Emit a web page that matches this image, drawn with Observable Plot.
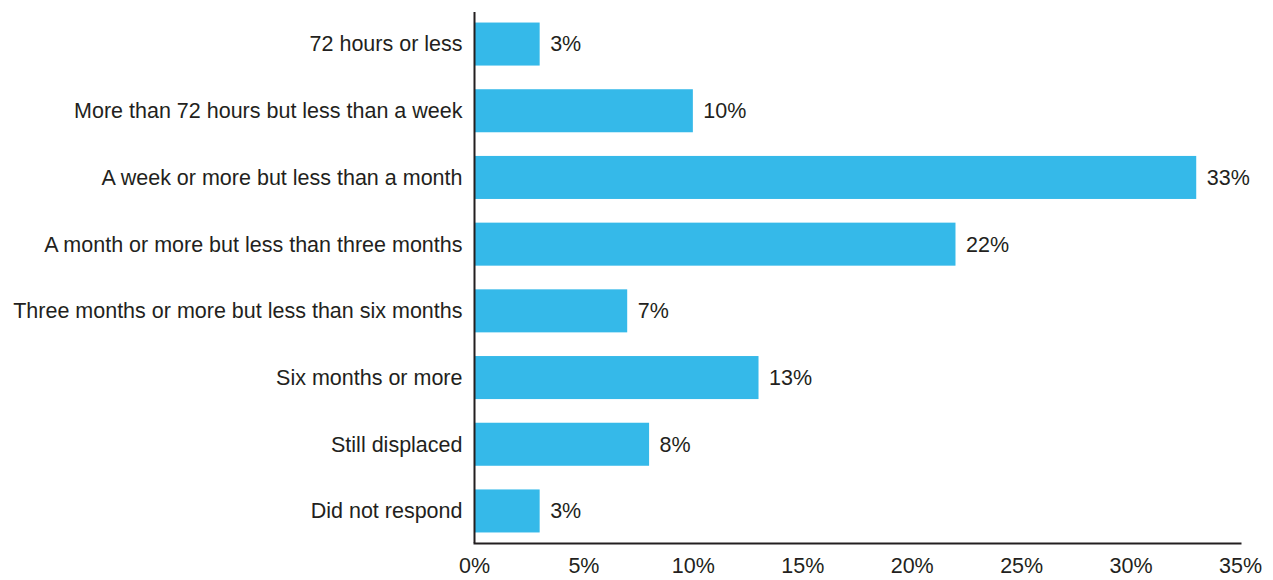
<!DOCTYPE html>
<html>
<head>
<meta charset="utf-8">
<script src="https://cdn.jsdelivr.net/npm/d3@7"></script>
<script src="https://cdn.jsdelivr.net/npm/@observablehq/plot@0.6"></script>
<style>
  html, body { margin: 0; padding: 0; background: #fff; }
</style>
</head>
<body>
<div id="chart"></div>
<script>
const categories = [
  "72 hours or less",
  "More than 72 hours but less than a week",
  "A week or more but less than a month",
  "A month or more but less than three months",
  "Three months or more but less than six months",
  "Six months or more",
  "Still displaced",
  "Did not respond"
];
const values = [3, 10, 33, 22, 7, 13, 8, 3];
const xTicks = [0, 5, 10, 15, 20, 25, 30, 35];

const data = categories.map((c, i) => ({category: c, value: values[i]}));
const ink = "#231f20";

const chart = Plot.plot({
  width: 1273,
  height: 580,
  marginLeft: 474,
  marginRight: 33,
  marginTop: 12,
  marginBottom: 37,
  style: {fontFamily: "'Liberation Sans', Arial, sans-serif", fontSize: "21.5px", color: ink, background: "#fff"},
  x: {domain: [0, 35], ticks: xTicks, tickFormat: d => d + "%", tickSize: 0, tickPadding: 14, label: null},
  y: {domain: categories, paddingInner: 0.355, paddingOuter: 0.158, round: false, tickSize: 0, tickPadding: 12, label: null},
  marks: [
    Plot.barX(data, {x: "value", y: "category", fill: "#35b9e9"}),
    Plot.text(data, {x: "value", y: "category", text: d => d.value + "%", textAnchor: "start", dx: 10, fill: ink, fontSize: 21.5}),
    Plot.ruleX([0], {stroke: ink, strokeWidth: 2}),
    Plot.frame({anchor: "bottom", stroke: ink, strokeWidth: 2})
  ]
});
document.getElementById("chart").appendChild(chart);
</script>
</body>
</html>
